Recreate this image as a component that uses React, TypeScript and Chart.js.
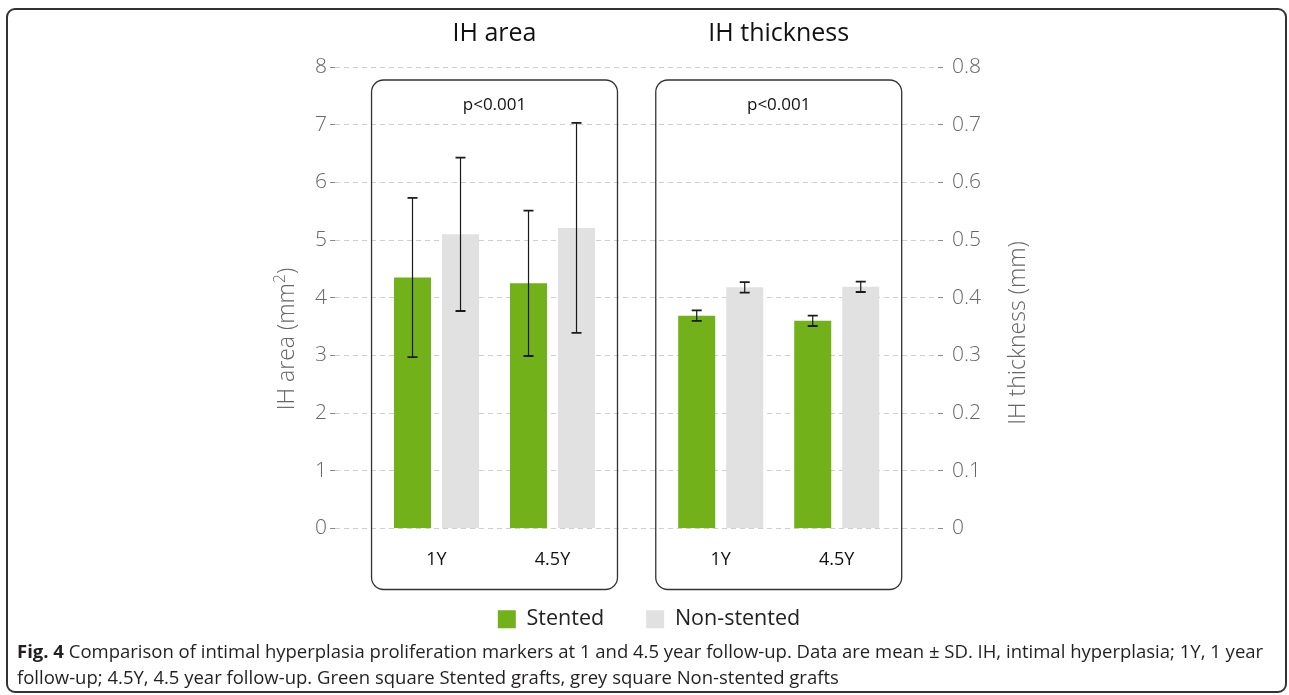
import React, { useEffect, useRef } from "react";
import { Chart, registerables } from "chart.js";

Chart.register(...registerables);

// ---- data ----
const categories = ["1Y", "4.5Y"];
const groupPositions = [1, 2, 3.45, 4.45]; // area groups, thickness groups
const seriesNames = ["Stented", "Non-stented"];
const panelTitles = ["IH area", "IH thickness"];
const pValues = ["p<0.001", "p<0.001"];

const areaStented = [4.35, 4.25];
const areaStentedSD = [1.38, 1.26];
const areaNonStented = [5.1, 5.21];
const areaNonStentedSD = [1.33, 1.82];

const thickStented = [0.369, 0.36];
const thickStentedSD = [0.009, 0.009];
const thickNonStented = [0.418, 0.419];
const thickNonStentedSD = [0.009, 0.009];

const areaTicks = [0, 1, 2, 3, 4, 5, 6, 7, 8];
const thickTicks = [0, 0.1, 0.2, 0.3, 0.4, 0.5, 0.6, 0.7, 0.8];
const thickTickLabels = ["0", "0.1", "0.2", "0.3", "0.4", "0.5", "0.6", "0.7", "0.8"];

// ---- styles ----
const GREEN = "#72b11a";
const GREY = "#e0e1e0";
const FONT = "'Open Sans', 'DejaVu Sans', sans-serif";

const errorBarPlugin = {
  id: "errorBars",
  afterDatasetsDraw(chart: any) {
    const ctx = chart.ctx;
    ctx.save();
    chart.data.datasets.forEach((ds: any, di: number) => {
      const meta = chart.getDatasetMeta(di);
      const yScale = chart.scales[ds.yAxisID];
      meta.data.forEach((bar: any, i: number) => {
        const mean = ds.data[i].y;
        const sd = ds.sd[i];
        const x = bar.x;
        const yT = yScale.getPixelForValue(mean + sd);
        const yB = yScale.getPixelForValue(mean - sd);
        ctx.strokeStyle = "#1a1a1a";
        ctx.lineWidth = 1.2;
        ctx.beginPath();
        ctx.moveTo(x, yT);
        ctx.lineTo(x, yB);
        ctx.stroke();
        ctx.lineWidth = 1.8;
        ctx.beginPath();
        ctx.moveTo(x - 5, yT);
        ctx.lineTo(x + 5, yT);
        ctx.moveTo(x - 5, yB);
        ctx.lineTo(x + 5, yB);
        ctx.stroke();
      });
    });
    ctx.restore();
  },
};

const panelPlugin = {
  id: "panels",
  afterDraw(chart: any) {
    const ctx = chart.ctx;
    const xs = chart.scales.x;
    const area = chart.chartArea;
    ctx.save();
    for (let p = 0; p < 2; p++) {
      const c = (groupPositions[2 * p] + groupPositions[2 * p + 1]) / 2;
      const cx = xs.getPixelForValue(c);
      const l = xs.getPixelForValue(c - 1.06);
      const r = xs.getPixelForValue(c + 1.06);
      const t = area.top + 13;
      const b = area.bottom + 61;
      ctx.strokeStyle = "#333";
      ctx.lineWidth = 1.3;
      ctx.beginPath();
      (ctx as any).roundRect(l, t, r - l, b - t, 12);
      ctx.stroke();

      ctx.fillStyle = "#111";
      ctx.textAlign = "center";
      ctx.textBaseline = "middle";
      ctx.font = `17px ${FONT}`;
      ctx.fillText(pValues[p], cx, area.top + 38);
      ctx.font = `25px ${FONT}`;
      ctx.fillText(panelTitles[p], cx, 34);
    }

    // axis titles
    ctx.fillStyle = "#666";
    const midY = area.top + 272;
    const big = `300 23px ${FONT}`;
    const small = `300 16px ${FONT}`;
    // left: IH area (mm²)
    ctx.save();
    ctx.translate(area.left - 48, midY);
    ctx.rotate(-Math.PI / 2);
    ctx.textBaseline = "middle";
    ctx.textAlign = "left";
    const a = "IH area (mm";
    const sup = "2";
    const cl = ")";
    ctx.font = big;
    const wa = ctx.measureText(a).width;
    const wc = ctx.measureText(cl).width;
    ctx.font = small;
    const ws = ctx.measureText(sup).width;
    let sx = -(wa + ws + wc) / 2;
    ctx.font = big;
    ctx.fillText(a, sx, 0);
    sx += wa;
    ctx.font = small;
    ctx.fillText(sup, sx, -7);
    sx += ws;
    ctx.font = big;
    ctx.fillText(cl, sx, 0);
    ctx.restore();
    // right
    ctx.save();
    ctx.translate(area.right + 80, midY - 6);
    ctx.rotate(-Math.PI / 2);
    ctx.textBaseline = "middle";
    ctx.textAlign = "center";
    ctx.font = big;
    ctx.fillText("IH thickness (mm)", 0, 0);
    ctx.restore();
    ctx.restore();
  },
};

export default function App() {
  const ref = useRef<HTMLCanvasElement | null>(null);

  useEffect(() => {
    if (!ref.current) return;
    const pts = (pos: number[], vals: number[]) => vals.map((v, i) => ({ x: pos[i], y: v }));
    const chart = new Chart(ref.current, {
      type: "bar",
      data: {
        datasets: [
          {
            label: seriesNames[0],
            data: pts(groupPositions.slice(0, 2), areaStented),
            sd: areaStentedSD,
            yAxisID: "y",
            stack: "s",
            backgroundColor: GREEN,
            borderWidth: 0,
          },
          {
            label: seriesNames[1],
            data: pts(groupPositions.slice(0, 2), areaNonStented),
            sd: areaNonStentedSD,
            yAxisID: "y",
            stack: "n",
            backgroundColor: GREY,
            borderWidth: 0,
          },
          {
            label: seriesNames[0],
            data: pts(groupPositions.slice(2, 4), thickStented),
            sd: thickStentedSD,
            yAxisID: "y2",
            stack: "s",
            backgroundColor: GREEN,
            borderWidth: 0,
          },
          {
            label: seriesNames[1],
            data: pts(groupPositions.slice(2, 4), thickNonStented),
            sd: thickNonStentedSD,
            yAxisID: "y2",
            stack: "n",
            backgroundColor: GREY,
            borderWidth: 0,
          },
        ] as any,
      },
      options: {
        animation: false,
        responsive: false,
        categoryPercentage: 0.8276,
        barPercentage: 0.771,
        layout: { padding: { top: 67, left: 260, right: 251, bottom: 0 } },
        plugins: {
          tooltip: { enabled: false },
          legend: {
            position: "bottom",
            labels: {
              filter: (item: any) => item.datasetIndex < 2,
              boxWidth: 18,
              boxHeight: 18,
              padding: 42,
              color: "#222",
              font: { family: FONT, size: 21.5 },
            },
          },
        },
        scales: {
          x: {
            type: "linear",
            min: 0.125,
            max: 5.323,
            bounds: "data",
            offset: false,
            grid: { display: false, drawTicks: false },
            border: { display: false },
            afterBuildTicks: (s: any) => {
              s.ticks = groupPositions.map((v) => ({ value: v }));
            },
            afterFit: (s: any) => {
              s.height = 38;
            },
            ticks: {
              autoSkip: false,
              maxRotation: 0,
              padding: 21,
              color: "#111",
              font: { family: FONT, size: 18 },
              callback: (_v: any, i: number) => categories[i % 2],
            },
          },
          y: {
            position: "left",
            min: 0,
            max: 8,
            stacked: false,
            afterBuildTicks: (s: any) => {
              s.ticks = areaTicks.map((v) => ({ value: v }));
            },
            afterFit: (s: any) => {
              s.width = 75;
            },
            border: { display: false, dash: [5, 4] },
            grid: {
              color: "#cfcfcf",
              tickColor: "#8a8a8a",
              tickLength: 5,
              tickBorderDash: [5, 4],
            } as any,
            ticks: {
              padding: 3,
              color: "#666",
              font: { family: FONT, size: 21, weight: "300" as any },
            },
          },
          y2: {
            position: "right",
            min: 0,
            max: 0.8,
            stacked: false,
            afterBuildTicks: (s: any) => {
              s.ticks = thickTicks.map((v) => ({ value: v }));
            },
            afterFit: (s: any) => {
              s.width = 100;
            },
            border: { display: false },
            grid: {
              drawOnChartArea: false,
              tickColor: "#8a8a8a",
              tickLength: 5,
            },
            ticks: {
              padding: 9,
              color: "#666",
              font: { family: FONT, size: 21, weight: "300" as any },
              callback: (_v: any, i: number) => thickTickLabels[i],
            },
          },
        },
      } as any,
      plugins: [errorBarPlugin, panelPlugin],
    });
    return () => chart.destroy();
  }, []);

  return (
    <>
      <div
        style={{
          position: "absolute",
          left: 6,
          top: 8,
          width: 1281,
          height: 685,
          border: "2px solid #333",
          borderRadius: 9,
          boxSizing: "border-box",
        }}
      />
      <div style={{ position: "absolute", left: 0, top: 0, width: 1289, height: 640 }}>
        <canvas ref={ref} width={1289} height={640} style={{ display: "block" }} />
      </div>
      <div
        style={{
          position: "absolute",
          left: 17,
          top: 638,
          fontFamily: FONT,
          fontSize: 18.5,
          lineHeight: "26px",
          color: "#231f20",
          whiteSpace: "nowrap",
        }}
      >
        <b>Fig. 4</b> Comparison of intimal hyperplasia proliferation markers at 1 and 4.5 year follow-up. Data are
        mean ± SD. IH, intimal hyperplasia; 1Y, 1 year
        <br />
        follow-up; 4.5Y, 4.5 year follow-up. Green square Stented grafts, grey square Non-stented grafts
      </div>
    </>
  );
}
